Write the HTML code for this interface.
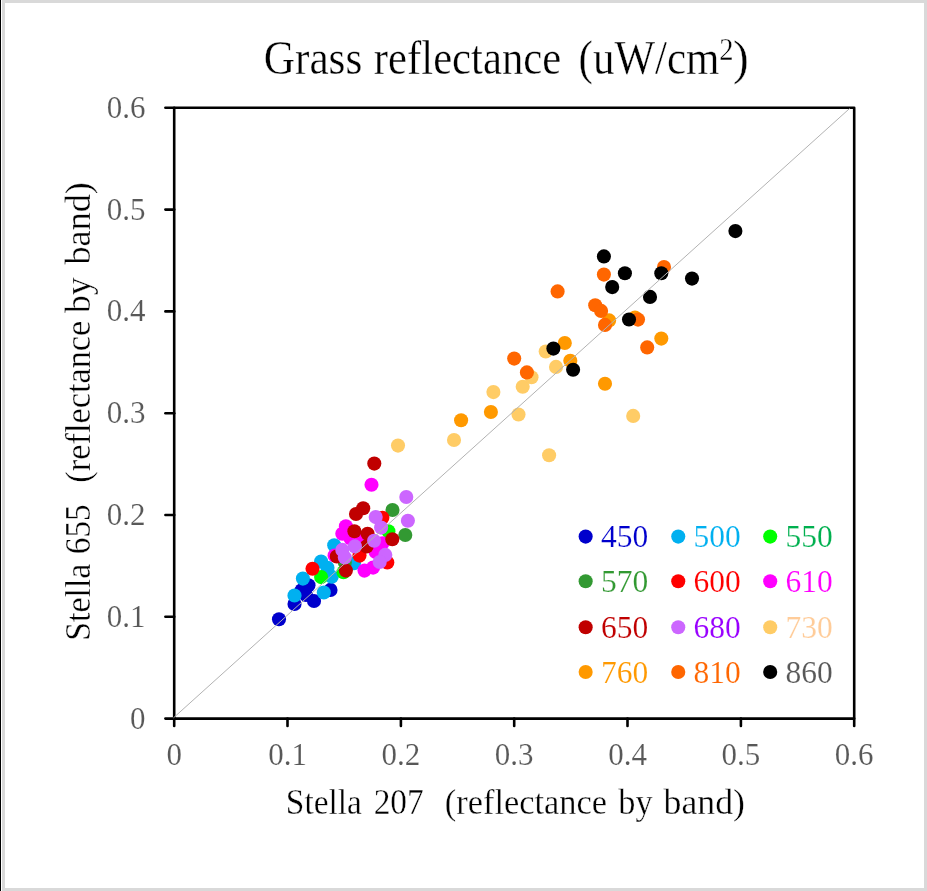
<!DOCTYPE html>
<html><head><meta charset="utf-8"><title>Grass reflectance</title>
<style>
html,body{margin:0;padding:0;background:#fff;}
body{width:927px;height:891px;overflow:hidden;position:relative;font-family:"Liberation Serif",serif;}
svg{position:absolute;left:0;top:0;will-change:transform;}
text{font-family:"Liberation Serif",serif;}
.er{stroke:#fff;stroke-width:0.32px;}
.tk,.lg{stroke:#fff;stroke-width:0.14px;}
.tk{font-size:31px;fill:#595959;}
.lg{font-size:31.5px;}
</style></head><body>
<svg width="927" height="891" viewBox="0 0 927 891">
<rect x="0" y="0" width="927" height="891" fill="#fff"/>
<rect x="3.5" y="1.5" width="922" height="888" fill="none" stroke="#d9d9d9" stroke-width="3"/>
<rect x="0" y="0" width="1" height="891" fill="#000"/>
<defs><filter id="soft" x="0" y="0" width="927" height="891" filterUnits="userSpaceOnUse"><feGaussianBlur stdDeviation="0.4"/></filter></defs>
<g filter="url(#soft)">

<text transform="translate(263.67,74.2) scale(0.9963,1.1)" font-size="43.5" fill="#000" class="er">Grass</text>
<text transform="translate(373.85,74.2) scale(0.9825,1.1)" font-size="43.5" fill="#000" class="er">reflectance</text>
<text transform="translate(578.58,74.2) scale(0.9890,1.1)" font-size="43.5" fill="#000" class="er">(uW/cm</text>
<text transform="translate(719.36,59.7) scale(0.9978,1.1)" font-size="28.6" fill="#000" class="er">2</text>
<text transform="translate(733.08,74.2) scale(1.0875,1.1)" font-size="43.5" fill="#000" class="er">)</text>
<text transform="translate(285.85,813.7) scale(0.9532,1.02)" font-size="35" fill="#000" class="er">Stella</text>
<text transform="translate(373.66,813.7) scale(0.9544,1.02)" font-size="35" fill="#000" class="er">207</text>
<text transform="translate(444.72,813.7) scale(0.9838,1.02)" font-size="35" fill="#000" class="er">(reflectance</text>
<text transform="translate(618.25,813.7) scale(0.9814,1.02)" font-size="35" fill="#000" class="er">by</text>
<text transform="translate(663.60,813.7) scale(1.0219,1.02)" font-size="35" fill="#000" class="er">band)</text>
<text transform="translate(89.8,640.84) rotate(-90) scale(0.9694,1.02)" font-size="35" fill="#000" class="er">Stella</text>
<text transform="translate(89.8,554.23) rotate(-90) scale(0.9530,1.02)" font-size="35" fill="#000" class="er">655</text>
<text transform="translate(89.8,482.67) rotate(-90) scale(0.9819,1.02)" font-size="35" fill="#000" class="er">(reflectance</text>
<text transform="translate(89.8,313.10) rotate(-90) scale(1.0200,1.02)" font-size="35" fill="#000" class="er">by</text>
<text transform="translate(89.8,264.50) rotate(-90) scale(1.0335,1.02)" font-size="35" fill="#000" class="er">band)</text>
<g stroke="#000" stroke-width="2.6" fill="none" stroke-linecap="butt" stroke-linejoin="round">
<rect x="174.2" y="107.8" width="680.0" height="610.8"/>
<line x1="174.2" y1="718.6" x2="174.2" y2="725.9" stroke-linecap="round"/>
<line x1="165.4" y1="718.6" x2="174.2" y2="718.6" stroke-linecap="round"/>
<line x1="287.5" y1="718.6" x2="287.5" y2="725.9" stroke-linecap="round"/>
<line x1="165.4" y1="616.8" x2="174.2" y2="616.8" stroke-linecap="round"/>
<line x1="400.9" y1="718.6" x2="400.9" y2="725.9" stroke-linecap="round"/>
<line x1="165.4" y1="515.0" x2="174.2" y2="515.0" stroke-linecap="round"/>
<line x1="514.2" y1="718.6" x2="514.2" y2="725.9" stroke-linecap="round"/>
<line x1="165.4" y1="413.2" x2="174.2" y2="413.2" stroke-linecap="round"/>
<line x1="627.5" y1="718.6" x2="627.5" y2="725.9" stroke-linecap="round"/>
<line x1="165.4" y1="311.4" x2="174.2" y2="311.4" stroke-linecap="round"/>
<line x1="740.9" y1="718.6" x2="740.9" y2="725.9" stroke-linecap="round"/>
<line x1="165.4" y1="209.6" x2="174.2" y2="209.6" stroke-linecap="round"/>
<line x1="854.2" y1="718.6" x2="854.2" y2="725.9" stroke-linecap="round"/>
<line x1="165.4" y1="107.8" x2="174.2" y2="107.8" stroke-linecap="round"/>
</g>
<text class="tk" x="174.2" y="765.2" text-anchor="middle">0</text>
<text class="tk" x="145.6" y="728.6" text-anchor="end">0</text>
<text class="tk" x="287.5" y="765.2" text-anchor="middle">0.1</text>
<text class="tk" x="145.6" y="626.8" text-anchor="end">0.1</text>
<text class="tk" x="400.9" y="765.2" text-anchor="middle">0.2</text>
<text class="tk" x="145.6" y="525.0" text-anchor="end">0.2</text>
<text class="tk" x="514.2" y="765.2" text-anchor="middle">0.3</text>
<text class="tk" x="145.6" y="423.2" text-anchor="end">0.3</text>
<text class="tk" x="627.5" y="765.2" text-anchor="middle">0.4</text>
<text class="tk" x="145.6" y="321.4" text-anchor="end">0.4</text>
<text class="tk" x="740.9" y="765.2" text-anchor="middle">0.5</text>
<text class="tk" x="145.6" y="219.6" text-anchor="end">0.5</text>
<text class="tk" x="854.2" y="765.2" text-anchor="middle">0.6</text>
<text class="tk" x="145.6" y="117.8" text-anchor="end">0.6</text>
<g fill="#0000cc">
<circle cx="279.0" cy="619.2" r="7.05"/>
<circle cx="294.5" cy="604.0" r="7.05"/>
<circle cx="314.0" cy="601.0" r="7.05"/>
<circle cx="308.5" cy="585.2" r="7.05"/>
<circle cx="301.6" cy="590.2" r="7.05"/>
<circle cx="306.0" cy="595.0" r="7.05"/>
<circle cx="330.5" cy="589.9" r="7.05"/>
</g>
<g fill="#00b0f0">
<circle cx="294.5" cy="595.5" r="7.05"/>
<circle cx="302.9" cy="578.6" r="7.05"/>
<circle cx="323.8" cy="592.5" r="7.05"/>
<circle cx="321.1" cy="561.6" r="7.05"/>
<circle cx="327.5" cy="567.8" r="7.05"/>
<circle cx="331.7" cy="576.7" r="7.05"/>
<circle cx="334.2" cy="545.2" r="7.05"/>
<circle cx="354.0" cy="563.3" r="7.05"/>
</g>
<g fill="#00ff00">
<circle cx="321.1" cy="577.1" r="7.05"/>
<circle cx="343.5" cy="572.2" r="7.05"/>
<circle cx="388.4" cy="531.3" r="7.05"/>
</g>
<g fill="#339933">
<circle cx="392.5" cy="510.0" r="7.05"/>
<circle cx="405.3" cy="535.0" r="7.05"/>
<circle cx="344.8" cy="562.5" r="7.05"/>
</g>
<g fill="#ff0000">
<circle cx="312.5" cy="568.7" r="7.05"/>
<circle cx="382.4" cy="517.8" r="7.05"/>
<circle cx="359.5" cy="555.6" r="7.05"/>
<circle cx="387.3" cy="562.5" r="7.05"/>
</g>
<g fill="#ff00ff">
<circle cx="345.9" cy="526.2" r="7.05"/>
<circle cx="342.3" cy="533.7" r="7.05"/>
<circle cx="350.4" cy="538.3" r="7.05"/>
<circle cx="359.5" cy="539.3" r="7.05"/>
<circle cx="382.4" cy="543.3" r="7.05"/>
<circle cx="375.7" cy="551.9" r="7.05"/>
<circle cx="364.5" cy="570.6" r="7.05"/>
<circle cx="373.1" cy="567.6" r="7.05"/>
<circle cx="334.6" cy="555.5" r="7.05"/>
<circle cx="371.5" cy="484.8" r="7.05"/>
</g>
<g fill="#c00000">
<circle cx="356.0" cy="514.0" r="7.05"/>
<circle cx="363.2" cy="508.3" r="7.05"/>
<circle cx="374.3" cy="463.6" r="7.05"/>
<circle cx="354.4" cy="531.2" r="7.05"/>
<circle cx="367.6" cy="533.7" r="7.05"/>
<circle cx="366.6" cy="546.4" r="7.05"/>
<circle cx="392.3" cy="539.3" r="7.05"/>
<circle cx="345.9" cy="570.6" r="7.05"/>
<circle cx="336.8" cy="556.5" r="7.05"/>
</g>
<g fill="#cc66ff">
<circle cx="375.7" cy="517.1" r="7.05"/>
<circle cx="381.1" cy="527.6" r="7.05"/>
<circle cx="374.1" cy="540.8" r="7.05"/>
<circle cx="354.9" cy="546.4" r="7.05"/>
<circle cx="342.3" cy="549.9" r="7.05"/>
<circle cx="344.8" cy="557.5" r="7.05"/>
<circle cx="385.3" cy="554.9" r="7.05"/>
<circle cx="379.7" cy="562.0" r="7.05"/>
<circle cx="406.3" cy="497.0" r="7.05"/>
<circle cx="407.9" cy="520.8" r="7.05"/>
</g>
<g fill="#ffcc66">
<circle cx="454.0" cy="440.0" r="7.05"/>
<circle cx="493.4" cy="392.1" r="7.05"/>
<circle cx="518.5" cy="414.5" r="7.05"/>
<circle cx="522.7" cy="386.8" r="7.05"/>
<circle cx="531.5" cy="377.2" r="7.05"/>
<circle cx="549.1" cy="455.2" r="7.05"/>
<circle cx="398.0" cy="445.6" r="7.05"/>
<circle cx="556.0" cy="366.9" r="7.05"/>
<circle cx="545.7" cy="351.5" r="7.05"/>
<circle cx="633.2" cy="415.9" r="7.05"/>
</g>
<g fill="#ff9900">
<circle cx="461.1" cy="420.3" r="7.05"/>
<circle cx="490.9" cy="412.0" r="7.05"/>
<circle cx="564.8" cy="343.0" r="7.05"/>
<circle cx="570.3" cy="360.8" r="7.05"/>
<circle cx="605.0" cy="383.7" r="7.05"/>
<circle cx="609.1" cy="320.4" r="7.05"/>
<circle cx="635.0" cy="317.6" r="7.05"/>
<circle cx="661.3" cy="338.6" r="7.05"/>
</g>
<g fill="#ff6600">
<circle cx="514.2" cy="358.6" r="7.05"/>
<circle cx="526.9" cy="372.4" r="7.05"/>
<circle cx="557.6" cy="291.4" r="7.05"/>
<circle cx="603.9" cy="274.6" r="7.05"/>
<circle cx="595.2" cy="305.2" r="7.05"/>
<circle cx="601.1" cy="310.9" r="7.05"/>
<circle cx="605.0" cy="324.9" r="7.05"/>
<circle cx="638.0" cy="319.6" r="7.05"/>
<circle cx="664.0" cy="267.0" r="7.05"/>
<circle cx="647.2" cy="347.4" r="7.05"/>
</g>
<g fill="#000000">
<circle cx="603.9" cy="256.4" r="7.05"/>
<circle cx="624.9" cy="273.3" r="7.05"/>
<circle cx="612.2" cy="287.1" r="7.05"/>
<circle cx="661.3" cy="273.3" r="7.05"/>
<circle cx="650.0" cy="296.9" r="7.05"/>
<circle cx="629.0" cy="319.5" r="7.05"/>
<circle cx="553.4" cy="348.6" r="7.05"/>
<circle cx="573.1" cy="369.8" r="7.05"/>
<circle cx="692.0" cy="278.6" r="7.05"/>
<circle cx="735.4" cy="231.1" r="7.05"/>
</g>
<line x1="173.5" y1="717.8" x2="849.6" y2="108.5" stroke="#b2b2b2" stroke-width="1.0"/>
<circle cx="585.65" cy="536.6" r="7.05" fill="#0000cc"/>
<text class="lg" x="600.9" y="547.1" fill="#0000cc">450</text>
<circle cx="678.25" cy="536.6" r="7.05" fill="#00b0f0"/>
<text class="lg" x="693.5" y="547.1" fill="#00b0f0">500</text>
<circle cx="770.2" cy="536.6" r="7.05" fill="#00ff00"/>
<text class="lg" x="785.5" y="547.1" fill="#00b050">550</text>
<circle cx="585.65" cy="581.3" r="7.05" fill="#339933"/>
<text class="lg" x="600.9" y="591.8" fill="#339933">570</text>
<circle cx="678.25" cy="581.3" r="7.05" fill="#ff0000"/>
<text class="lg" x="693.5" y="591.8" fill="#ff0000">600</text>
<circle cx="770.2" cy="581.3" r="7.05" fill="#ff00ff"/>
<text class="lg" x="785.5" y="591.8" fill="#ff00ff">610</text>
<circle cx="585.65" cy="627.3" r="7.05" fill="#c00000"/>
<text class="lg" x="600.9" y="637.8" fill="#c00000">650</text>
<circle cx="678.25" cy="627.3" r="7.05" fill="#cc66ff"/>
<text class="lg" x="693.5" y="637.8" fill="#9900ff">680</text>
<circle cx="770.2" cy="627.3" r="7.05" fill="#ffcc66"/>
<text class="lg" x="785.5" y="637.8" fill="#ffcc99">730</text>
<circle cx="585.65" cy="672.0" r="7.05" fill="#ff9900"/>
<text class="lg" x="600.9" y="682.5" fill="#ff9900">760</text>
<circle cx="678.25" cy="672.0" r="7.05" fill="#ff6600"/>
<text class="lg" x="693.5" y="682.5" fill="#ff6600">810</text>
<circle cx="770.2" cy="672.0" r="7.05" fill="#000000"/>
<text class="lg" x="785.5" y="682.5" fill="#595959">860</text>
</g>
</svg></body></html>
